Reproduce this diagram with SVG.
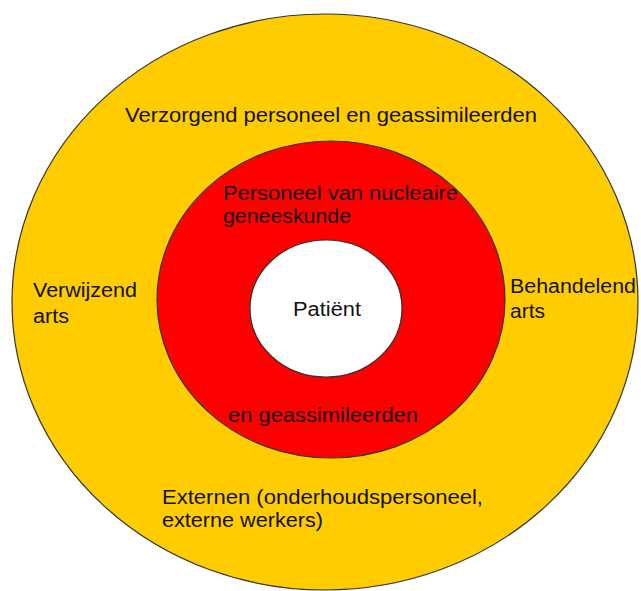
<svg xmlns="http://www.w3.org/2000/svg" width="641" height="591" viewBox="0 0 641 591">
<style>
.ring{stroke:#333;stroke-width:1.2}
.t{font-family:"Liberation Sans",Arial,sans-serif;font-size:19.5px;fill:#111}
</style>
<rect width="641" height="591" fill="#fff"/>
<g id="outer">
<ellipse class="ring" cx="325" cy="302" rx="313" ry="288" fill="#FFCC00"/>
<text class="t" x="125" y="122" textLength="412" lengthAdjust="spacingAndGlyphs">Verzorgend personeel en geassimileerden</text>
<text class="t" x="33" y="297" textLength="104" lengthAdjust="spacingAndGlyphs">Verwijzend</text>
<text class="t" x="33" y="323" textLength="36" lengthAdjust="spacingAndGlyphs">arts</text>
<text class="t" x="510" y="293" textLength="126" lengthAdjust="spacingAndGlyphs">Behandelend</text>
<text class="t" x="510" y="318" textLength="35" lengthAdjust="spacingAndGlyphs">arts</text>
<text class="t" x="162" y="504" textLength="321" lengthAdjust="spacingAndGlyphs">Externen (onderhoudspersoneel,</text>
<text class="t" x="162" y="527" textLength="161" lengthAdjust="spacingAndGlyphs">externe werkers)</text>
</g>
<g id="middle">
<ellipse class="ring" cx="331" cy="299.5" rx="174" ry="158.5" fill="#FF0000"/>
<text class="t" x="223" y="200" textLength="235" lengthAdjust="spacingAndGlyphs">Personeel van nucleaire</text>
<text class="t" x="223" y="223" textLength="128" lengthAdjust="spacingAndGlyphs">geneeskunde</text>
<text class="t" x="228" y="422" textLength="190" lengthAdjust="spacingAndGlyphs">en geassimileerden</text>
</g>
<g id="inner">
<ellipse class="ring" cx="326" cy="308.5" rx="76" ry="68.5" fill="#FFFFFF"/>
<text class="t" x="293" y="315.5" textLength="68" lengthAdjust="spacingAndGlyphs">Patiënt</text>
</g>
<g id="connectors"/>
</svg>
